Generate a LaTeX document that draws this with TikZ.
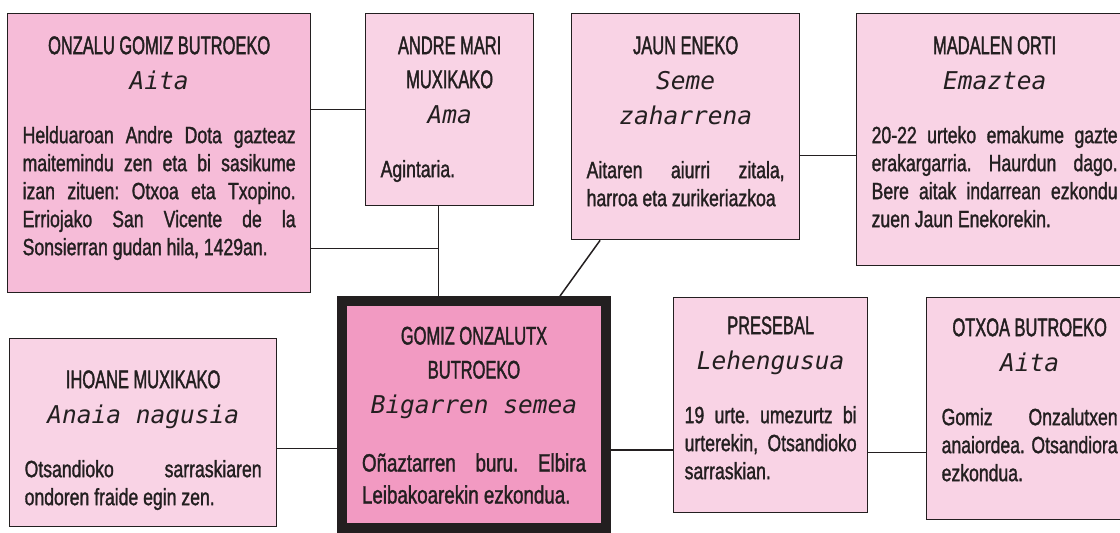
\documentclass[tikz,border=0pt]{standalone}
\usepackage{fontspec}
\newfontfamily\izenfont[FakeStretch=0.645,FakeBold=1.5]{Liberation Sans}
\newfontfamily\testufont[FakeStretch=0.75,FakeBold=1.3]{Liberation Sans}
\newfontfamily\rolfont{DejaVu Sans Mono}
\usetikzlibrary{calc}
\frenchspacing

\definecolor{arrosa}{RGB}{249,211,229}
\definecolor{arrosailun}{RGB}{246,188,216}
\definecolor{arrosabizi}{RGB}{242,154,194}
\definecolor{beltza}{RGB}{35,31,32}

\newcommand{\fitxa}[3]{%
  {\centering\izenfont\fontsize{25.5}{34}\selectfont #1\par}%
  {\centering\rolfont\itshape\fontsize{24.5}{35}\selectfont #2\par}%
  \vspace{26pt}%
  {\testufont\fontsize{23.5}{28}\selectfont #3\par}}

\tikzset{
  pertsona/.style={draw=beltza, line width=1.3pt, fill=arrosa, text=beltza,
    align=justify, anchor=north west, inner xsep=15pt, inner ysep=23.5pt,
    text height=17pt},
  lotura/.style={draw=beltza, line width=1.5pt}
}

\begin{document}
\begin{tikzpicture}[x=1pt,y=1pt]
  \useasboundingbox (0,0) rectangle (1120,-533);

  \node[pertsona, fill=arrosailun, text width=273pt, minimum width=303pt, text depth=215pt] (onzalu) at (7,-13)
    {\fitxa{ONZALU GOMIZ BUTROEKO}{Aita}{Helduaroan Andre Dota gazteaz\linebreak maitemindu zen eta bi sasikume\linebreak izan zituen: Otxoa eta Txopino.\linebreak Erriojako San Vicente de la\linebreak Sonsierran gudan hila, 1429an.}};
  \node[pertsona, text width=138pt, minimum width=168pt, text depth=128pt] (andre) at (365,-13)
    {\fitxa{ANDRE MARI MUXIKAKO}{Ama}{Agintaria.}};
  \node[pertsona, text width=198pt, minimum width=228pt, text depth=162pt] (jaun) at (571,-13)
    {\fitxa{JAUN ENEKO}{Seme\par zaharrena}{Aitaren aiurri zitala,\linebreak harroa eta zurikeriazkoa}};
  \node[pertsona, text width=246pt, minimum width=276pt, text depth=188pt] (madalen) at (856,-13)
    {\fitxa{MADALEN ORTI}{Emaztea}{20-22 urteko emakume gazte\linebreak erakargarria. Haurdun dago.\linebreak Bere aitak indarrean ezkondu\linebreak zuen Jaun Enekorekin.}};

  \node[pertsona, text width=237pt, minimum width=267pt, text height=26pt, text depth=115pt] (ihoane) at (9,-338)
    {\fitxa{IHOANE MUXIKAKO}{Anaia nagusia}{Otsandioko sarraskiaren\linebreak ondoren fraide egin zen.}};
  \node[pertsona, fill=arrosabizi, line width=10pt, inner xsep=20pt, text width=224pt, minimum width=264pt, text height=20pt, text depth=160pt] (gomiz) at (337,-296)
    {\fitxa{GOMIZ ONZALUTX BUTROEKO}{Bigarren~semea}{\fontsize{25}{32}\selectfont Oñaztarren buru. Elbira\linebreak Leibakoarekin ezkondua.}};
  \node[pertsona, inner xsep=11pt, text width=172pt, minimum width=194pt, text height=13pt, text depth=155pt] (presebal) at (673,-297)
    {\fitxa{PRESEBAL}{Lehengusua}{19 urte. umezurtz bi\linebreak urterekin, Otsandioko\linebreak sarraskian.}};
  \node[pertsona, text width=176pt, minimum width=206pt, text height=15pt, text depth=160pt] (otxoa) at (926,-297)
    {\fitxa{OTXOA BUTROEKO}{Aita}{Gomiz Onzalutxen\linebreak anaiordea. Otsandiora\linebreak ezkondua.}};

  \coordinate (gurasoak) at ($(gomiz.north west)!0.37!(gomiz.north east)$);
  \coordinate (o2) at ($(onzalu.north east)!0.84!(onzalu.south east)$);
  \coordinate (j1) at ($(jaun.north east)!0.628!(jaun.south east)$);
  \coordinate (i1) at ($(ihoane.north east)!0.585!(ihoane.south east)$);
  \coordinate (g1) at ($(gomiz.north east)!0.65!(gomiz.south east)$);
  \coordinate (p1) at ($(presebal.north east)!0.72!(presebal.south east)$);

  \draw[lotura] (andre.west) -- (andre.west -| onzalu.east);
  \draw[lotura] (andre.south -| gurasoak) -- (gurasoak);
  \draw[lotura] (o2) -- (o2 -| gurasoak);
  \draw[lotura] ($(jaun.south west)!0.127!(jaun.south east)$) -- ($(gomiz.north west)!0.814!(gomiz.north east)$);
  \draw[lotura] (j1) -- (j1 -| madalen.west);
  \draw[lotura] (i1) -- (i1 -| gomiz.west);
  \draw[lotura] (g1) -- (g1 -| presebal.west);
  \draw[lotura] (p1) -- (p1 -| otxoa.west);
\end{tikzpicture}
\end{document}
